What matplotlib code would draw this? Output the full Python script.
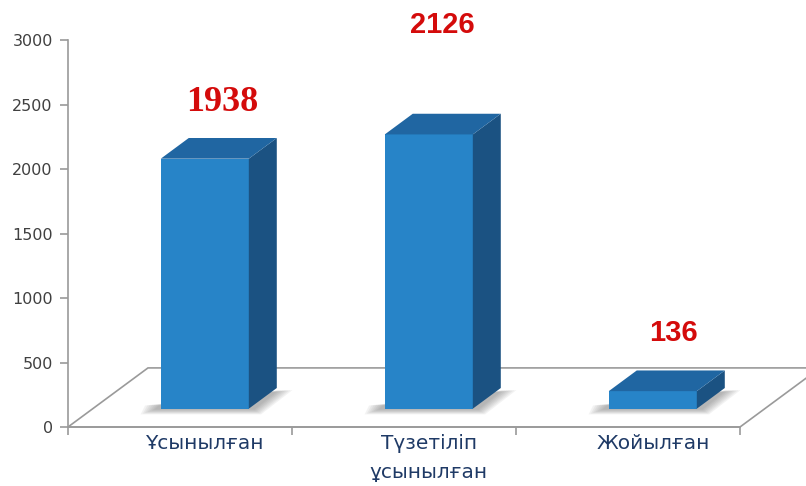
import matplotlib.pyplot as plt
from matplotlib.patches import Polygon
import numpy as np

# dane
kategorie = ["Ұсынылған", "Түзетіліп\nұсынылған", "Жойылған"]
wartosci = [1938, 2126, 136]
etykiety = ["1938", "2126", "136"]

# wygląd
kol_front = "#2784c8"
kol_bok = "#1b5282"
kol_gora = "#2066a2"
kol_osi = "#9a9a9a"
czerwony = "#d40b0b"

glebx, gleby = 0.357, 458.0     # wektor głębokości podłogi (jedn. danych)
f0, f1 = 0.31, 0.66            # przód / tył słupka w ułamku głębokości
szer = 0.393

fig = plt.figure(figsize=(8.06, 4.86), dpi=100)
ax = fig.add_axes([68/806, 1-427/486, 672/806, 387/486])
ax.set_xlim(0, 3)
ax.set_ylim(0, 3000)

# podłoga
podloga = Polygon([(0, 0), (3, 0), (3 + glebx, gleby), (glebx, gleby)],
                  closed=True, facecolor="none", edgecolor=kol_osi, lw=1.2,
                  clip_on=False, zorder=1)
ax.add_patch(podloga)

x = np.arange(len(wartosci)) + 0.5
xf = x + f0*glebx
y0 = f0*gleby
ddx, ddy = (f1 - f0)*glebx, (f1 - f0)*gleby

# cienie (miękkie, kilka warstw)
for i, v in enumerate(wartosci):
    xl = xf[i] - szer/2
    xr = xf[i] + szer/2
    for k in range(7):
        s = 0.01*(k + 1)
        cien = Polygon([(xl - 0.02 - s, y0 - 8 - 6*k), (xr + 0.02 + s/2, y0 - 8 - 6*k),
                        (xr + ddx + s, y0 + ddy*0.9), (xl - s, y0 + 25)],
                       closed=True, facecolor="#505050", edgecolor="none",
                       alpha=0.07, zorder=2)
        ax.add_patch(cien)

ax.bar(xf, wartosci, bottom=y0, width=szer, color=kol_front, zorder=3)

for i, v in enumerate(wartosci):
    xl = xf[i] - szer/2
    xr = xf[i] + szer/2
    yt = y0 + v
    bok = Polygon([(xr, y0), (xr + ddx, y0 + ddy), (xr + ddx, yt + ddy), (xr, yt)],
                  closed=True, facecolor=kol_bok, edgecolor="none", zorder=3)
    gora = Polygon([(xl, yt), (xr, yt), (xr + ddx, yt + ddy), (xl + ddx, yt + ddy)],
                   closed=True, facecolor=kol_gora, edgecolor="none", zorder=4)
    ax.add_patch(bok)
    ax.add_patch(gora)

# etykiety wartości
podnies = [574, 990, 593]
przes = [0.08, 0.06, 0.09]
ax.text(xf[0] + przes[0], wartosci[0] + podnies[0], etykiety[0], ha="center", va="center",
        fontsize=26, fontweight="bold", color=czerwony, family="Liberation Serif")
for i in (1, 2):
    ax.text(xf[i] + przes[i], wartosci[i] + podnies[i], etykiety[i], ha="center", va="center",
            fontsize=21, fontweight="bold", color=czerwony, family="Liberation Sans")

# osie
for s in ["top", "right"]:
    ax.spines[s].set_visible(False)
ax.spines["left"].set_color(kol_osi)
ax.spines["bottom"].set_color(kol_osi)
ax.spines["left"].set_linewidth(1.2)
ax.spines["bottom"].set_linewidth(1.2)

ax.set_yticks(np.arange(0, 3001, 500))
ax.tick_params(axis="y", colors=kol_osi, length=6, width=1.2, labelcolor="#404040",
               labelsize=11.5, pad=5)
ax.set_xticks([0, 1, 2, 3])
ax.set_xticklabels([])
ax.tick_params(axis="x", which="major", colors=kol_osi, length=6, width=1.2)
ax.set_xticks(xf, minor=True)
ax.set_xticklabels(kategorie, minor=True, fontsize=14.5, color="#1f3a66", linespacing=1.65)
ax.tick_params(axis="x", which="minor", length=0, pad=5)

fig.savefig("out.png", dpi=100)
